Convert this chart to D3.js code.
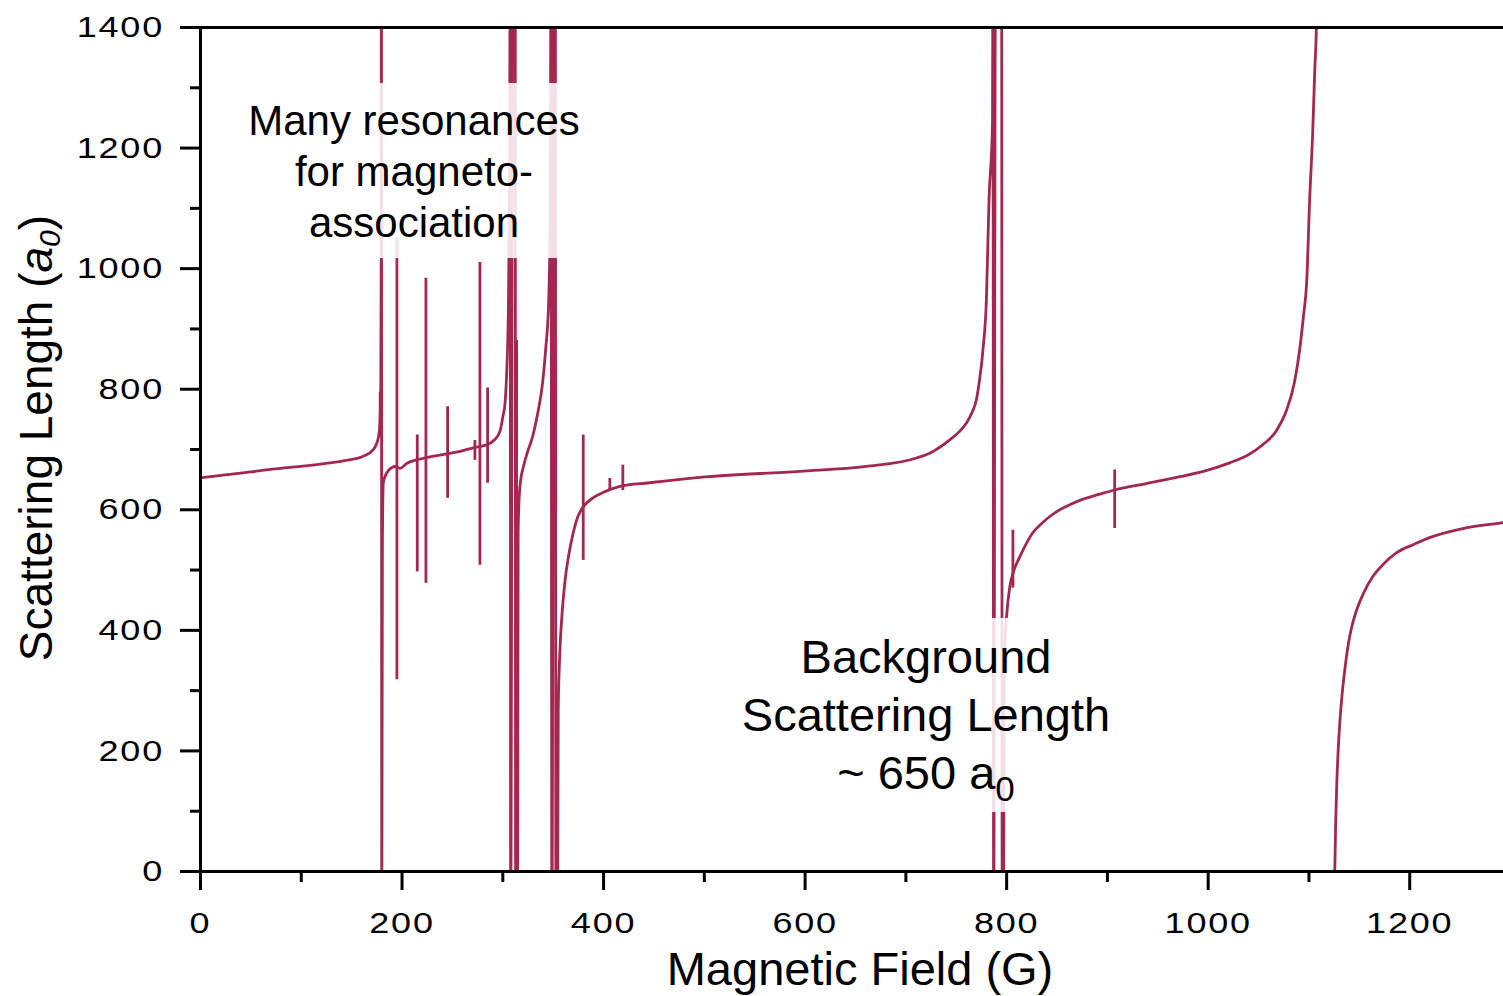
<!DOCTYPE html>
<html>
<head>
<meta charset="utf-8">
<script src="https://cdn.jsdelivr.net/npm/d3@7"></script>
<style>
  body { margin: 0; background: #fff; }
  svg { display: block; font-family: "Liberation Sans", Arial, sans-serif; }
</style>
</head>
<body>
<svg width="1503" height="996"></svg>
<script>
// magnetic field (G) and scattering length (a0)
// values past the frame are where the trace runs off-scale at a resonance, null = gap
var fieldG = [
  0, 25, 50, 75, 100, 125, 145, 162, 172, 175, 177, 178.6, 179.4, 179.8, 180.0, 180.4,
  181.0, 181.9, 185.2, 190.2, 194, 198.4, 205, 215, 225, 245, 258, 271, 284.4, 292,
  297.6, 300.6, 302.6, 304.6, 306, 307.2, 307.8, 308.3, 310.5, 312.8, 313.2, 315.1,
  315.7, 316.5, 318, 321, 325, 330, 335, 340, 343, 346, 347.6, 348.3, 349.2, 351.4,
  352.6, 353.2, 354.8, 355.5, 357.1, 359, 362, 366, 370.4, 375, 380.3, 390, 400,
  416.7, 446, 496, 595, 661, 711, 727.5, 744, 753, 760.6, 766, 770.5, 774, 777,
  780.4, 783, 786.4, 786.9, 787.6, 789.4, 795.5, 796.1, 797.3, 798.0, 799.0, 800.4,
  803.6, 808, 813.5, 820, 826.4, 835, 843.3, 852, 860, 875, 892.9, 907.7, 940, 972.2,
  1000, 1021.8, 1040, 1054.6, 1068, 1078.4, 1086, 1091.3, 1095, 1098.2, 1101.2,
  1104.2, 1106.2, 1108.1, 1108.5, 1117, 1125.9, 1127, 1128.2, 1129.8, 1131.5, 1133.5,
  1136, 1138.5, 1142, 1147.8, 1155, 1163.7, 1175, 1187.5, 1205, 1220.2, 1253, 1292.7, 1300
];
var scatLen = [
  652, 657, 662, 667, 671, 676, 681, 688, 699, 708, 719, 744, 800, 1000, 1500, -100,
  540, 644, 660, 669, 671, 668, 676, 682, 686, 692, 696, 702, 707, 715,
  729, 754, 774, 837, 931, 1150, 1500, -100, 1500, 1500, -100, -100,
  560, 611, 645, 671, 695, 720, 758, 810, 865, 943, 1100, 1500, -100, 1500,
  1500, -100, -100, 267, 362, 420, 478, 525, 561, 588, 604, 619, 628,
  638, 644, 653, 663, 671, 685, 696, 715, 728, 743, 760, 782, 820, 865,
  948, 1114, 1236, 1500, -100, 1500, 1500, -100, -100, 300, 383, 422,
  471, 500, 521, 543, 561, 576, 588, 598, 605, 616, 625, 632, 643, 654,
  665, 677, 690, 707, 730, 765, 810, 865, 920, 976, 1114,
  1225, 1326, 1420, 1500, null, -20, 80, 150, 210, 255, 295,
  333, 365, 398, 433, 462, 488, 510, 528, 542, 553, 568, 578, 580
];

// narrow resonances: one vertical stroke each
var spikeField = [178.8, 195.4, 215.6, 224.2, 245.7, 272.8, 277.8, 285.4, 314.2, 380.3, 406.7, 419.6, 806.7, 907.7];
var spikeHigh  = [795, 1050, 724, 984, 771, 715, 1010, 802, 881, 724, 652, 674, 566, 666];
var spikeLow   = [720, 318, 497, 478, 619, 682, 508, 644, 0, 516, 632, 632, 470, 569];

var xMajor = [0, 200, 400, 600, 800, 1000, 1200];
var xMinor = [100, 300, 500, 700, 900, 1100, 1300];
var yMajor = [0, 200, 400, 600, 800, 1000, 1200, 1400];
var yMinor = [100, 300, 500, 700, 900, 1100, 1300];

var svg = d3.select("svg");
var lineColor = "#a3284f";
var labelStretch = 1.2;

var x = d3.scaleLinear().domain([0, 1300]).range([200, 1510]);
var y = d3.scaleLinear().domain([0, 1400]).range([871, 27]);

var pts = fieldG.map(function (f, i) { return { b: f, a: scatLen[i] }; });

svg.append("defs").append("clipPath").attr("id", "plot")
  .append("rect")
  .attr("x", x(0)).attr("y", y(1400))
  .attr("width", x(1300) - x(0)).attr("height", y(0) - y(1400));

var plot = svg.append("g").attr("clip-path", "url(#plot)");

plot.append("path")
  .datum(pts)
  .attr("fill", "none")
  .attr("stroke", lineColor)
  .attr("stroke-width", 2.8)
  .attr("d", d3.line()
    .defined(function (d) { return d.a !== null; })
    .curve(d3.curveMonotoneX)
    .x(function (d) { return x(d.b); })
    .y(function (d) { return y(d.a); }));

plot.selectAll("line.spike")
  .data(spikeField)
  .enter()
  .append("line")
    .attr("class", "spike")
    .attr("x1", function (d) { return x(d); })
    .attr("x2", function (d) { return x(d); })
    .attr("y1", function (d, i) { return y(spikeHigh[i]); })
    .attr("y2", function (d, i) { return y(spikeLow[i]); })
    .attr("stroke", lineColor)
    .attr("stroke-width", 2.8);

// translucent label backgrounds
svg.append("rect").attr("x", 240).attr("y", 83).attr("width", 350).attr("height", 175)
  .attr("fill", "#fff").attr("opacity", 0.86);
svg.append("rect").attr("x", 733).attr("y", 618).attr("width", 387).attr("height", 194)
  .attr("fill", "#fff").attr("opacity", 0.86);

// axes
function styleAxis(g) {
  g.selectAll("path.domain").attr("stroke", "#000").attr("stroke-width", 3);
  g.selectAll(".tick line").attr("stroke", "#000").attr("stroke-width", 3);
  g.selectAll(".tick text").attr("fill", "#000")
    .style("font-size", "30px").style("letter-spacing", "1.5px");
}

var gx = svg.append("g").attr("transform", "translate(0," + y(0) + ")")
  .call(d3.axisBottom(x).tickValues(xMajor).tickFormat(d3.format("d"))
    .tickSize(19).tickPadding(22).tickSizeOuter(0))
  .call(styleAxis);
gx.selectAll(".tick text").attr("transform", "scale(" + labelStretch + ",1)");

svg.append("g").attr("transform", "translate(0," + y(0) + ")")
  .call(d3.axisBottom(x).tickValues(xMinor).tickSize(11).tickFormat(""))
  .call(styleAxis)
  .select("path.domain").remove();

var gy = svg.append("g").attr("transform", "translate(" + x(0) + ",0)")
  .call(d3.axisLeft(y).tickValues(yMajor).tickFormat(d3.format("d"))
    .tickSize(20).tickPadding(14).tickSizeOuter(0))
  .call(styleAxis);
gy.selectAll(".tick text")
  .attr("x", -36 / labelStretch)
  .attr("transform", "scale(" + labelStretch + ",1)");

svg.append("g").attr("transform", "translate(" + x(0) + ",0)")
  .call(d3.axisLeft(y).tickValues(yMinor).tickSize(10).tickFormat(""))
  .call(styleAxis)
  .select("path.domain").remove();

// top frame
svg.append("line")
  .attr("x1", x(0)).attr("x2", x(1300))
  .attr("y1", y(1400) + 0.5).attr("y2", y(1400) + 0.5)
  .attr("stroke", "#000").attr("stroke-width", 3);

// axis titles
svg.append("text")
  .attr("x", 860).attr("y", 985)
  .attr("text-anchor", "middle")
  .style("font-size", "47px")
  .text("Magnetic Field (G)");

var yt = svg.append("text")
  .attr("transform", "translate(52,438) rotate(-90)")
  .attr("text-anchor", "middle")
  .style("font-size", "46px");
yt.append("tspan").text("Scattering Length (");
yt.append("tspan").style("font-style", "italic").text("a");
yt.append("tspan").style("font-style", "italic").style("font-size", "30px")
  .attr("dy", 8).text("0");
yt.append("tspan").attr("dy", -8).text(")");

// annotations
var noteTop = ["Many resonances", "for magneto-", "association"];
svg.append("g").selectAll("text")
  .data(noteTop)
  .enter()
  .append("text")
    .attr("x", 414)
    .attr("y", function (d, i) { return 135 + i * 51; })
    .attr("text-anchor", "middle")
    .style("font-size", "42px")
    .text(function (d) { return d; });

var noteBottom = ["Background", "Scattering Length"];
svg.append("g").selectAll("text")
  .data(noteBottom)
  .enter()
  .append("text")
    .attr("x", 926)
    .attr("y", function (d, i) { return 673 + i * 58; })
    .attr("text-anchor", "middle")
    .style("font-size", "47px")
    .text(function (d) { return d; });

var bg = svg.append("text")
  .attr("x", 926).attr("y", 789)
  .attr("text-anchor", "middle")
  .style("font-size", "47px");
bg.append("tspan").text("~ 650 a");
bg.append("tspan").style("font-size", "35px").attr("dy", 12).text("0");
</script>
</body>
</html>
